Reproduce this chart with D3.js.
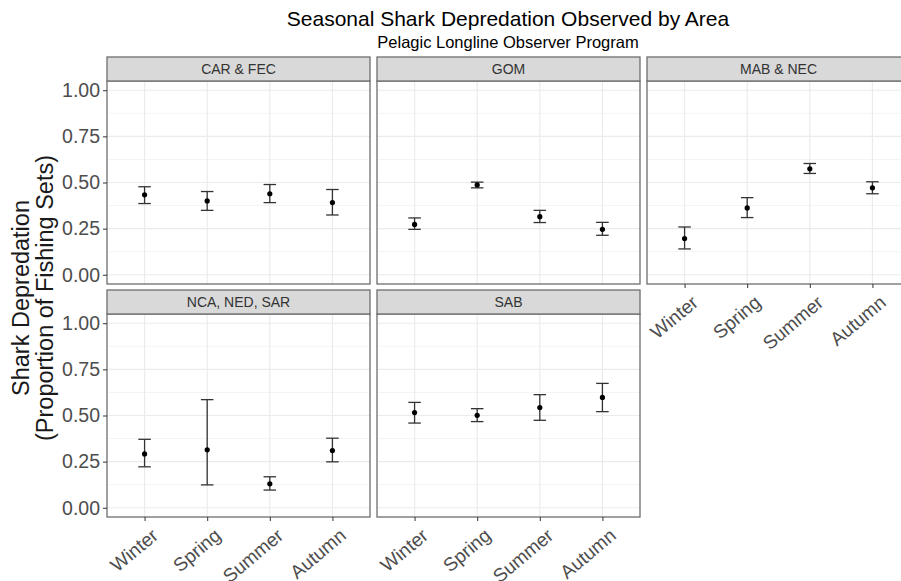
<!DOCTYPE html>
<html lang="en">
<head>
  <meta charset="utf-8">
  <title>Seasonal Shark Depredation</title>
  <script src="https://d3js.org/d3.v7.min.js"></script>
  <style>
    body { margin: 0; background: #fff; }
    svg { font-family: "Liberation Sans", Arial, sans-serif; }
  </style>
</head>
<body>
<script>
// facet order, read left to right, top to bottom
var areas = ["CAR & FEC", "GOM", "MAB & NEC", "NCA, NED, SAR", "SAB"];
var seasons = ["Winter", "Spring", "Summer", "Autumn"];
var yTicks = [0, 0.25, 0.5, 0.75, 1];

// proportion of sets with depredation, one row per area
var meanVals = [
  [0.433, 0.400, 0.439, 0.391],
  [0.273, 0.487, 0.315, 0.246],
  [0.196, 0.362, 0.574, 0.471],
  [0.292, 0.314, 0.130, 0.310],
  [0.516, 0.501, 0.543, 0.598]
];
// lower and upper ends of the error bars
var lowVals = [
  [0.386, 0.349, 0.391, 0.324],
  [0.246, 0.471, 0.283, 0.214],
  [0.140, 0.310, 0.549, 0.439],
  [0.222, 0.124, 0.096, 0.249],
  [0.459, 0.467, 0.474, 0.521]
];
var highVals = [
  [0.477, 0.451, 0.489, 0.462],
  [0.308, 0.502, 0.349, 0.284],
  [0.259, 0.418, 0.603, 0.504],
  [0.371, 0.586, 0.168, 0.377],
  [0.571, 0.537, 0.613, 0.674]
];

var w = 901, h = 581;
var panelLeft = 107, panelW = 263, colStep = 270;
var stripTop = 57, stripH = 24, panelH = 203, rowStep = 233;

var svg = d3.select("body").append("svg")
  .attr("width", w)
  .attr("height", h);

// titles
svg.append("text")
  .attr("x", 508).attr("y", 25.5)
  .attr("text-anchor", "middle")
  .style("font-size", "21px")
  .attr("fill", "#000")
  .text("Seasonal Shark Depredation Observed by Area");

svg.append("text")
  .attr("x", 508).attr("y", 47.5)
  .attr("text-anchor", "middle")
  .style("font-size", "16.5px")
  .attr("fill", "#000")
  .text("Pelagic Longline Observer Program");

// y axis title, two lines
var yTitle = svg.append("text")
  .attr("transform", "translate(0,298) rotate(-90)")
  .attr("text-anchor", "middle")
  .style("font-size", "23.5px")
  .attr("fill", "#1a1a1a");
yTitle.append("tspan").attr("x", 0).attr("y", 29).text("Shark Depredation");
yTitle.append("tspan").attr("x", 0).attr("y", 52.5).text("(Proportion of Fishing Sets)");

areas.forEach(function(area, i) {
  var col = i % 3, row = Math.floor(i / 3);
  var x0 = panelLeft + col * colStep;
  var sTop = stripTop + row * rowStep;
  var pTop = sTop + stripH;
  var pBottom = pTop + panelH;

  var x = d3.scalePoint()
    .domain(seasons)
    .range([x0, x0 + panelW])
    .padding(0.6);

  var y = d3.scaleLinear()
    .domain([-0.05, 1.05])
    .range([pBottom, pTop]);

  var g = svg.append("g");

  // background + grid
  g.append("rect")
    .attr("x", x0).attr("y", pTop)
    .attr("width", panelW).attr("height", panelH)
    .attr("fill", "#fff");

  var minor = d3.range(0.125, 1, 0.25);
  g.selectAll(".minor").data(minor).enter().append("line")
    .attr("x1", x0).attr("x2", x0 + panelW)
    .attr("y1", function(d) { return y(d); })
    .attr("y2", function(d) { return y(d); })
    .attr("stroke", "#f4f4f4").attr("stroke-width", 1);

  g.selectAll(".major").data(yTicks).enter().append("line")
    .attr("x1", x0).attr("x2", x0 + panelW)
    .attr("y1", function(d) { return y(d); })
    .attr("y2", function(d) { return y(d); })
    .attr("stroke", "#ebebeb").attr("stroke-width", 1.2);

  g.selectAll(".vgrid").data(seasons).enter().append("line")
    .attr("x1", function(d) { return x(d); })
    .attr("x2", function(d) { return x(d); })
    .attr("y1", pTop).attr("y2", pBottom)
    .attr("stroke", "#ebebeb").attr("stroke-width", 1.2);

  // error bars
  var pts = seasons.map(function(s, j) {
    return { s: s, m: meanVals[i][j], lo: lowVals[i][j], hi: highVals[i][j] };
  });
  var cap = x.step() * 0.1;

  var bars = g.selectAll(".bar").data(pts).enter().append("g")
    .attr("stroke", "#333").attr("stroke-width", 1.3).attr("fill", "none");
  bars.append("line")
    .attr("x1", function(d) { return x(d.s); })
    .attr("x2", function(d) { return x(d.s); })
    .attr("y1", function(d) { return y(d.lo); })
    .attr("y2", function(d) { return y(d.hi); });
  bars.append("line")
    .attr("x1", function(d) { return x(d.s) - cap; })
    .attr("x2", function(d) { return x(d.s) + cap; })
    .attr("y1", function(d) { return y(d.lo); })
    .attr("y2", function(d) { return y(d.lo); });
  bars.append("line")
    .attr("x1", function(d) { return x(d.s) - cap; })
    .attr("x2", function(d) { return x(d.s) + cap; })
    .attr("y1", function(d) { return y(d.hi); })
    .attr("y2", function(d) { return y(d.hi); });

  g.selectAll(".pt").data(pts).enter().append("circle")
    .attr("cx", function(d) { return x(d.s); })
    .attr("cy", function(d) { return y(d.m); })
    .attr("r", 2.6)
    .attr("fill", "#000");

  // panel border
  g.append("rect")
    .attr("x", x0).attr("y", pTop)
    .attr("width", panelW).attr("height", panelH)
    .attr("fill", "none").attr("stroke", "#6e6e6e").attr("stroke-width", 1.3);

  // strip
  g.append("rect")
    .attr("x", x0).attr("y", sTop)
    .attr("width", panelW).attr("height", stripH)
    .attr("fill", "#d9d9d9").attr("stroke", "#6e6e6e").attr("stroke-width", 1.3);
  g.append("text")
    .attr("x", x0 + panelW / 2).attr("y", sTop + 17)
    .attr("text-anchor", "middle")
    .style("font-size", "14px")
    .attr("fill", "#333")
    .text(area);

  // y axis on the first column
  if (col === 0) {
    var ya = g.append("g")
      .attr("transform", "translate(" + x0 + ",0)")
      .call(d3.axisLeft(y).tickValues(yTicks).tickFormat(d3.format(".2f"))
        .tickSize(4).tickPadding(3));
    ya.select(".domain").remove();
    ya.selectAll(".tick line").attr("stroke", "#333");
    ya.selectAll(".tick text")
      .attr("fill", "#4d4d4d")
      .style("font-size", "19.5px")
      .style("font-family", "'Liberation Sans', Arial, sans-serif");
  }

  // x axis where nothing sits below
  if (row === 1 || col === 2) {
    var xa = g.append("g")
      .attr("transform", "translate(0," + pBottom + ")")
      .call(d3.axisBottom(x).tickSize(4).tickFormat(""));
    xa.select(".domain").remove();
    xa.selectAll(".tick line").attr("stroke", "#333");

    g.selectAll(".xlab").data(seasons).enter().append("text")
      .attr("text-anchor", "end")
      .attr("dy", "0.52em")
      .attr("transform", function(d) {
        return "translate(" + (x(d) + 8.5) + "," + (pBottom + 13) + ") rotate(-40)";
      })
      .style("font-size", "19px")
      .attr("fill", "#4d4d4d")
      .text(function(d) { return d; });
  }
});
</script>
</body>
</html>
